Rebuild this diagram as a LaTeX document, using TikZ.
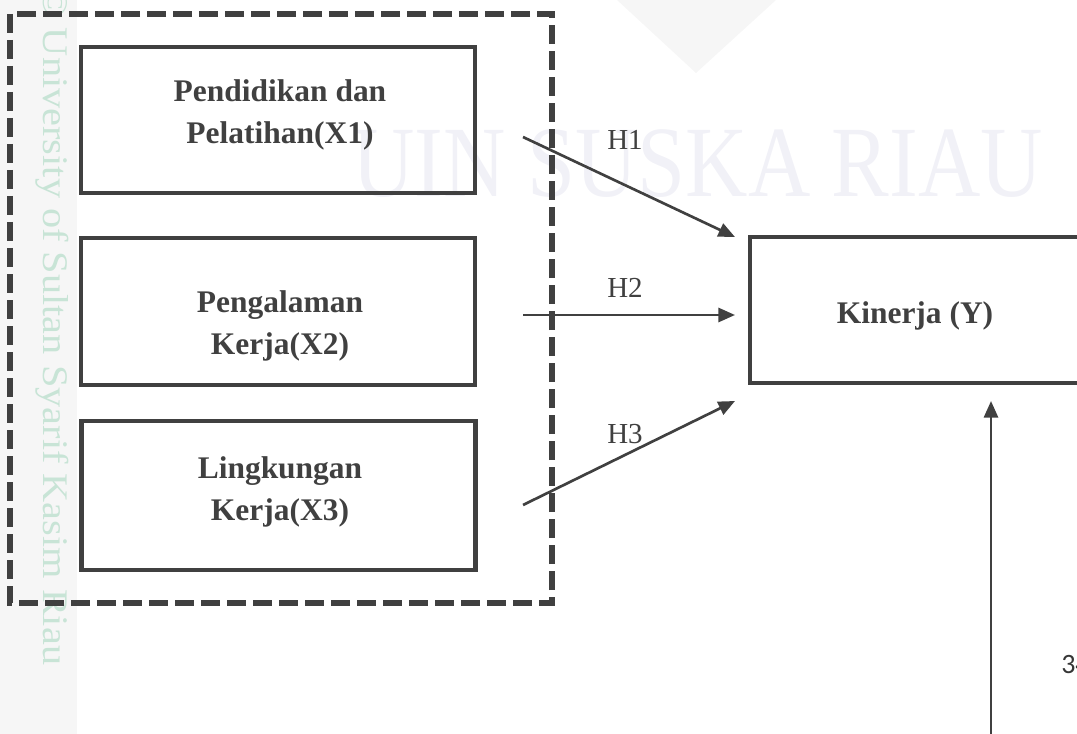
\documentclass[tikz,border=0pt]{standalone}
\usepackage{fontspec}
\setmainfont{Liberation Serif}
\newfontfamily\numfont{Carlito}
\usetikzlibrary{arrows.meta}
\definecolor{ink}{RGB}{64,64,64}
\definecolor{wmgreen}{RGB}{200,228,214}
\definecolor{wmlav}{RGB}{241,241,247}
\definecolor{stripgray}{RGB}{246,246,246}
\definecolor{logogray}{RGB}{246,246,246}
\begin{document}
\begin{tikzpicture}[x=0.75pt,y=-0.75pt,
  box/.style={draw=ink, line width=3.5pt, inner sep=0pt, minimum width=295.5pt},
  lbl/.style={text=ink, inner sep=0pt, anchor=base, font=\bfseries\fontsize{23.6}{31.5}\selectfont},
  hlbl/.style={text=ink, inner sep=0pt, anchor=base west, font=\fontsize{21.75}{21.75}\selectfont},
  conn/.style={draw=ink, line width=2pt, -{Triangle[length=12.4pt,width=10.5pt]}},
  groupbox/.style={draw=ink, line width=4.5pt, dash pattern=on 14.25pt off 5.25pt}]
\useasboundingbox (0,0) rectangle (1077,734);
% background watermark
\fill[stripgray] (0,0) rectangle (77,734);
\fill[logogray] (617,0) -- (776,0) -- (696,73) -- cycle;
\node[text=wmlav, inner sep=0pt, anchor=base west, font=\fontsize{75.75}{75.75}\selectfont] (wm) at (352,197) {\scalebox{0.855}[1]{UIN SUSKA RIAU}};
\node[text=wmgreen, inner sep=0pt, anchor=base west, rotate=-90, font=\fontsize{27}{27}\selectfont] (wmside) at (43,-13) {\scalebox{1.12}[1]{© University of Sultan Syarif Kasim Riau}};
% group
\draw[groupbox] (10,14) rectangle (552,603);
% boxes
\node[box, minimum height=109.5pt] (x1) at (278,120) {};
\node[box, minimum height=110.25pt] (x2) at (278,311.5) {};
\node[box, minimum height=111.75pt] (x3) at (278.5,495.5) {};
\node[box, minimum width=247.5pt, minimum height=109.5pt] (y) at (915,310) {};
\node[lbl] (tx1) at (280,102) {\begin{tabular}[t]{@{}c@{}}Pendidikan dan\\Pelatihan(X1)\end{tabular}};
\node[lbl] (tx2) at (280,312) {\begin{tabular}[t]{@{}c@{}}Pengalaman\\Kerja(X2)\end{tabular}};
\node[lbl] (tx3) at (280,478) {\begin{tabular}[t]{@{}c@{}}Lingkungan\\Kerja(X3)\end{tabular}};
\node[lbl] (ty) at (915,323) {Kinerja (Y)};
% connector ends
\coordinate (s1) at (523,137);
\coordinate (e1) at (735,237);
\coordinate (s2) at (523,315);
\coordinate (e2) at (735,315);
\coordinate (s3) at (523,505);
\coordinate (e3) at (735,401);
\coordinate (s4) at (991,740);
\coordinate (e4) at (991,401);
\draw[conn] (s1) -- (e1);
\draw[conn] (s2) -- (e2);
\draw[conn] (s3) -- (e3);
\draw[conn] (s4) -- (e4);
\node[hlbl] (h1) at (607,150) {H1};
\node[hlbl] (h2) at (607,297) {H2};
\node[hlbl] (h3) at (607,443) {H3};
\node[inner sep=0pt, anchor=base west, text=ink!85!black, font=\numfont\fontsize{21}{21}\selectfont] (pg) at (1061,673) {34};
\end{tikzpicture}
\end{document}
